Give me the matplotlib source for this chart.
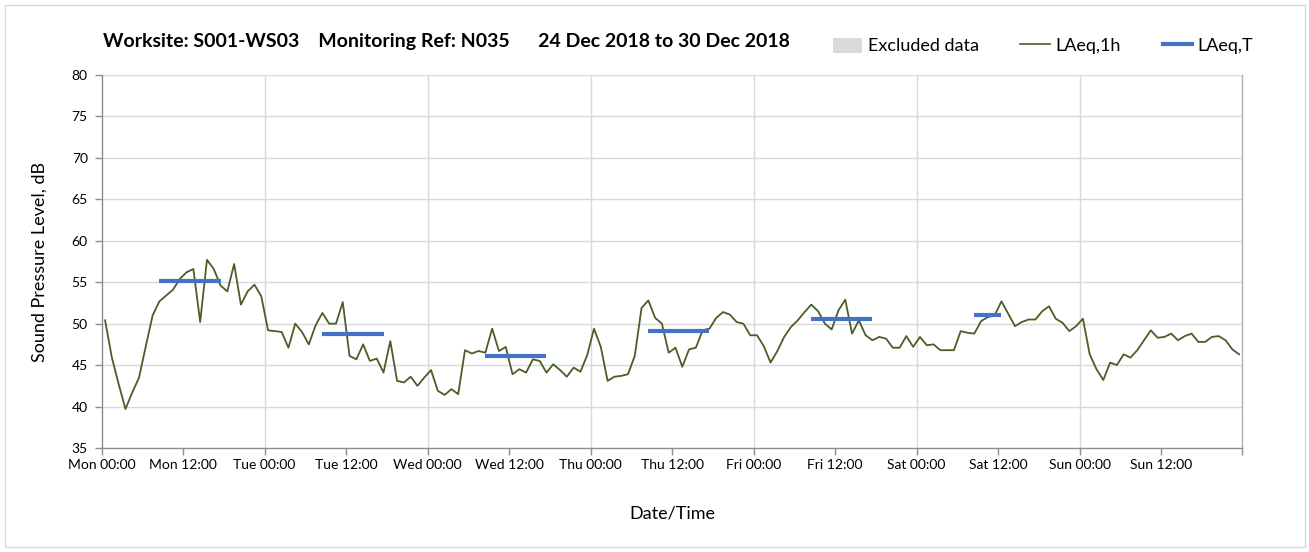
import numpy as np
import matplotlib
matplotlib.use("Agg")
import matplotlib.pyplot as plt
from matplotlib.lines import Line2D
from matplotlib.patches import Patch, Rectangle

plt.rcParams['font.family'] = ['Lato', 'DejaVu Sans']

# ---- data ----
title = "Worksite: S001-WS03    Monitoring Ref: N035      24 Dec 2018 to 30 Dec 2018"
tick_labels = ["Mon 00:00", "Mon 12:00", "Tue 00:00", "Tue 12:00", "Wed 00:00",
               "Wed 12:00", "Thu 00:00", "Thu 12:00", "Fri 00:00", "Fri 12:00",
               "Sat 00:00", "Sat 12:00", "Sun 00:00", "Sun 12:00", ""]
tick_hours = [0, 12, 24, 36, 48, 60, 72, 84, 96, 108, 120, 132, 144, 156, 168]

# hourly LAeq,1h values (Mon 00:00 .. Sun 23:00), plotted at the middle of each hour
laeq_1h = [
    50.4, 45.9, 42.7, 39.7, 41.7, 43.5, 47.3, 51.0, 52.7, 53.4, 54.1, 55.4,
    56.2, 56.6, 50.2, 57.7, 56.6, 54.6, 53.9, 57.2, 52.3, 53.9, 54.7, 53.3,
    49.2, 49.1, 49.0, 47.1, 50.0, 49.0, 47.5, 49.8, 51.3, 50.0, 50.0, 52.6,
    46.1, 45.7, 47.5, 45.5, 45.8, 44.1, 47.9, 43.1, 42.9, 43.6, 42.5, 43.5,
    44.4, 41.9, 41.4, 42.1, 41.5, 46.8, 46.4, 46.7, 46.5, 49.4, 46.7, 47.2,
    43.9, 44.5, 44.1, 45.7, 45.5, 44.1, 45.1, 44.4, 43.6, 44.7, 44.2, 46.2,
    49.4, 47.2, 43.1, 43.6, 43.7, 43.9, 46.1, 51.9, 52.8, 50.7, 50.0, 46.5,
    47.1, 44.8, 46.9, 47.1, 49.2, 49.4, 50.7, 51.4, 51.1, 50.2, 50.0, 48.6,
    48.6, 47.3, 45.3, 46.7, 48.4, 49.6, 50.4, 51.4, 52.3, 51.5, 50.0, 49.3,
    51.6, 52.9, 48.8, 50.4, 48.6, 48.0, 48.4, 48.2, 47.1, 47.1, 48.5, 47.2,
    48.4, 47.4, 47.5, 46.8, 46.8, 46.8, 49.1, 48.9, 48.8, 50.3, 50.8, 51.0,
    52.7, 51.2, 49.7, 50.2, 50.5, 50.5, 51.5, 52.1, 50.6, 50.1, 49.1, 49.7,
    50.6, 46.3, 44.5, 43.2, 45.3, 45.0, 46.3, 45.9, 46.8, 48.0, 49.2, 48.3,
    48.4, 48.8, 48.0, 48.5, 48.8, 47.8, 47.8, 48.4, 48.5, 48.0, 46.9, 46.3,
]
hour_index = np.arange(len(laeq_1h))

# LAeq,T daytime period values: start hour, end hour, level
laeq_t_start = [8, 32, 56, 80, 104, 128]
laeq_t_end = [17, 41, 65, 89, 113, 132]
laeq_t_level = [55.2, 48.7, 46.1, 49.1, 50.6, 51.0]

# ---- figure ----
W, H = 1309, 552
fig = plt.figure(figsize=(W / 100, H / 100), dpi=100)
ax = fig.add_axes([101.7 / W, 1 - 448 / H, (1242.5 - 101.7) / W, (448 - 75) / H])

green = '#4A5E26'
blue = '#4472C4'
grid_c = '#d9d9d9'
spine_c = '#8c8c8c'

ax.plot(hour_index + 0.5, laeq_1h, color=green, lw=1.3, label='LAeq,1h', zorder=3)
for s, e, v in zip(laeq_t_start, laeq_t_end, laeq_t_level):
    ax.plot([s + 0.5, e + 0.5], [v, v], color=blue, lw=3.0, solid_capstyle='butt', zorder=4)

ax.set_xlim(0, 168)
ax.set_ylim(35, 80)
ax.set_yticks(np.arange(35, 81, 5))
ax.set_xticks(tick_hours)
ax.set_xticklabels(tick_labels)

ax.grid(False)
for y in np.arange(40, 81, 5):
    ax.axhline(y, color=grid_c, lw=1.0, zorder=1)
for x in range(24, 168, 24):
    ax.axvline(x, color=grid_c, lw=1.0, zorder=1)

ax.spines['top'].set_visible(False)
ax.spines['right'].set_color('#b0b0b0')
ax.spines['left'].set_color(spine_c)
ax.spines['bottom'].set_color(spine_c)
for sp in ['left', 'bottom', 'right']:
    ax.spines[sp].set_linewidth(1.0)

ax.tick_params(axis='both', direction='out', length=5, color=spine_c, width=1.0,
               labelsize=10, labelcolor='#000000')
ax.tick_params(axis='y', pad=5)
ax.tick_params(axis='x', pad=3)

ax.set_ylabel('Sound Pressure Level, dB', fontsize=13, labelpad=17)
ax.set_xlabel('Date/Time', fontsize=13, labelpad=25)

fig.text(103 / W, 1 - 42 / H, title, fontsize=14, fontweight='bold',
         ha='left', va='center')

handles = [Patch(facecolor='#d9d9d9', edgecolor='none'),
           Line2D([], [], color=green, lw=1.2),
           Line2D([], [], color=blue, lw=3.0)]
labels = ['Excluded data', 'LAeq,1h', 'LAeq,T']
fig.legend(handles, labels, loc='center', bbox_to_anchor=(1043 / W, 1 - 46 / H),
           ncol=3, frameon=False, fontsize=13, handlelength=1.65, handleheight=0.9,
           handletextpad=0.3, columnspacing=2.3)

fig.patches.append(Rectangle((5 / W, 5 / H), 1300 / W, 542 / H, transform=fig.transFigure,
                             fill=False, edgecolor='#d9d9d9', lw=1.0))

fig.savefig('out.png', dpi=100)
